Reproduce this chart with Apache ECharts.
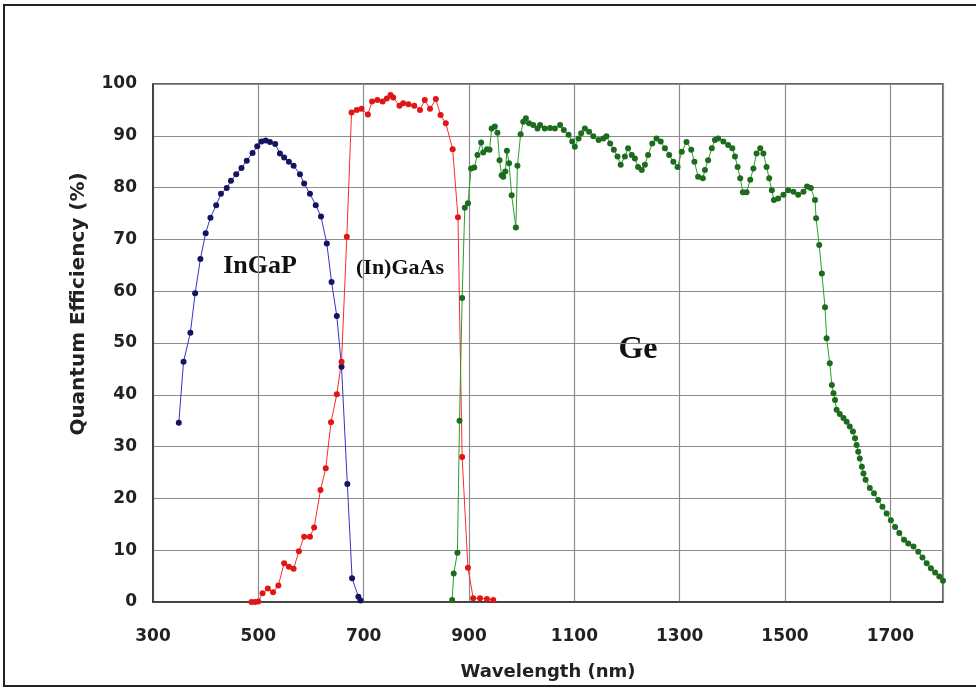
<!DOCTYPE html>
<html>
<head>
<meta charset="utf-8">
<script src="https://cdn.jsdelivr.net/npm/echarts@6/dist/echarts.min.js"></script>
<style>
  html, body { margin: 0; padding: 0; background: #fff; }
  #qe { width: 976px; height: 688px; }
</style>
</head>
<body>
<div id="qe"></div>
<script>
// x ticks
const xTicks = [300, 500, 700, 900, 1100, 1300, 1500, 1700]

// InGaP
const ingapX = [349, 358, 371, 380, 390, 400, 409, 420, 429, 440, 448, 458, 468, 478, 489, 498, 506, 514, 522, 532,
  541, 549, 558, 567, 579, 587, 598, 609, 619, 630, 639, 649, 658, 669, 678, 690, 694]
const ingapY = [34.6, 46.4, 52.0, 59.6, 66.2, 71.2, 74.2, 76.6, 78.8, 79.9, 81.3, 82.6, 83.8, 85.2, 86.7, 88.0, 88.9, 89.1, 88.8, 88.4,
  86.6, 85.8, 85.0, 84.2, 82.6, 80.8, 78.8, 76.6, 74.4, 69.2, 61.8, 55.2, 45.4, 22.8, 4.6, 1.0, 0.3]

// (In)GaAs
const gaasX = [487, 494, 500, 508, 518, 528, 538, 549, 558, 567, 577, 587, 598, 606, 618, 628, 638, 649, 658, 668,
  677, 687, 696, 708, 716, 726, 736, 744, 751, 756, 768, 775, 785, 796, 807, 816, 826, 837, 846, 856,
  869, 879, 887, 898, 908, 921, 934, 946]
const gaasY = [0, 0, 0.1, 1.7, 2.6, 1.9, 3.2, 7.5, 6.8, 6.4, 9.8, 12.6, 12.6, 14.4, 21.6, 25.8, 34.7, 40.1, 46.4, 70.5,
  94.5, 95.0, 95.2, 94.1, 96.6, 96.9, 96.6, 97.2, 97.9, 97.4, 95.8, 96.3, 96.1, 95.8, 95.0, 96.9, 95.2, 97.1, 94.0, 92.4,
  87.4, 74.3, 28.0, 6.6, 0.7, 0.7, 0.6, 0.4]

// Ge
const geX = [868, 871, 878, 882, 887, 892, 898, 904, 910, 916, 923, 927, 934, 939, 943, 949, 954, 958, 962, 965,
  969, 972, 976, 981, 989, 992, 998, 1003, 1008, 1014, 1022, 1030, 1035, 1044, 1054, 1063, 1073, 1080, 1089, 1096,
  1101, 1108, 1113, 1120, 1128, 1136, 1146, 1155, 1161, 1168, 1175, 1182, 1188, 1196, 1202, 1209, 1215, 1221, 1228, 1234,
  1240, 1248, 1256, 1264, 1272, 1280, 1288, 1296, 1304, 1313, 1322, 1328, 1335, 1344, 1348, 1354, 1361, 1367, 1373, 1383,
  1392, 1400, 1405, 1410, 1415, 1420, 1427, 1434, 1440, 1446, 1453, 1459, 1465, 1470, 1475, 1479, 1487, 1497, 1506, 1516,
  1525, 1535, 1542, 1549, 1557, 1559, 1565, 1570, 1576, 1579, 1585, 1589, 1592, 1595, 1598, 1604, 1611, 1617, 1623, 1629,
  1633, 1636, 1639, 1642, 1646, 1649, 1653, 1661, 1669, 1677, 1685, 1693, 1701, 1709, 1717, 1726, 1734, 1744, 1753, 1761,
  1769, 1777, 1785, 1793, 1800]
const geY = [0.4, 5.5, 9.5, 35.0, 58.7, 76.1, 77.0, 83.7, 83.9, 86.3, 88.7, 86.8, 87.4, 87.3, 91.4, 91.8, 90.6, 85.3, 82.4, 82.1,
  83.1, 87.1, 84.7, 78.5, 72.3, 84.2, 90.3, 92.7, 93.4, 92.4, 92.1, 91.4, 92.1, 91.4, 91.5, 91.4, 92.1, 91.1, 90.2, 88.9,
  87.9, 89.5, 90.5, 91.4, 90.8, 89.9, 89.2, 89.5, 89.9, 88.5, 87.3, 86.0, 84.4, 86.0, 87.6, 86.3, 85.6, 84.0, 83.4, 84.4,
  86.3, 88.5, 89.5, 88.9, 87.6, 86.3, 85.0, 84.0, 86.9, 88.8, 87.3, 85.0, 82.1, 81.8, 83.4, 85.3, 87.6, 89.2, 89.5, 88.9,
  88.2, 87.6, 86.0, 84.0, 81.8, 79.1, 79.1, 81.5, 83.7, 86.6, 87.6, 86.6, 84.0, 81.8, 79.5, 77.6, 77.9, 78.6, 79.5, 79.2,
  78.6, 79.2, 80.2, 79.9, 77.6, 74.1, 68.9, 63.4, 56.9, 50.9, 46.1, 41.9, 40.3, 39.0, 37.1, 36.3, 35.5, 34.8, 33.9, 32.9,
  31.6, 30.3, 29.0, 27.7, 26.1, 24.8, 23.6, 22.0, 21.0, 19.7, 18.4, 17.1, 15.8, 14.5, 13.3, 12.0, 11.3, 10.7, 9.7, 8.6,
  7.5, 6.5, 5.7, 4.9, 4.1]

function pairs(xs, ys) {
  return xs.map((x, i) => [x, ys[i]])
}

function makeSeries(name, xs, ys, lineColor, dotColor) {
  return {
    name: name,
    type: 'line',
    data: pairs(xs, ys),
    symbol: 'circle',
    symbolSize: 6,
    showSymbol: true,
    animation: false,
    lineStyle: { color: lineColor, width: 1 },
    itemStyle: { color: dotColor }
  }
}

const labelFont = { fontFamily: 'DejaVu Sans', fontWeight: 'bold', fontSize: 17, color: '#222' }

let chartDom = document.getElementById('qe')
let myChart = echarts.init(chartDom)
let option = {
  backgroundColor: '#fff',
  animation: false,
  grid: {
    left: 153, top: 84, right: 33, bottom: 86,
    show: true, borderColor: '#333', borderWidth: 1.5
  },
  xAxis: {
    type: 'value',
    min: xTicks[0],
    max: 1800,
    interval: 200,
    name: 'Wavelength (nm)',
    nameLocation: 'middle',
    nameGap: 61,
    nameTextStyle: { fontFamily: 'DejaVu Sans', fontWeight: 'bold', fontSize: 18, color: '#222' },
    axisLine: { show: true, lineStyle: { color: '#333', width: 1.5 } },
    axisTick: { show: false },
    axisLabel: Object.assign({ margin: 26, showMaxLabel: false,
      formatter: v => (xTicks.indexOf(v) >= 0 ? String(v) : '') }, labelFont),
    splitLine: { show: true, lineStyle: { color: '#8c8c8c', width: 1.2 } }
  },
  yAxis: {
    type: 'value',
    min: 0,
    max: 100,
    interval: 10,
    axisLine: { show: true, lineStyle: { color: '#333', width: 1.5 } },
    axisTick: { show: false },
    axisLabel: Object.assign({ margin: 16 }, labelFont),
    splitLine: { show: true, lineStyle: { color: '#8c8c8c', width: 1.2 } }
  },
  graphic: [
    {
      type: 'rect', silent: true,
      shape: { x: 4, y: 5, width: 1000, height: 681 },
      style: { fill: 'none', stroke: '#222', lineWidth: 2 }
    },
    {
      type: 'text', x: 79, y: 304, rotation: Math.PI / 2,
      style: { text: 'Quantum Efficiency (%)', font: 'bold 20px "DejaVu Sans"', fill: '#222',
        textAlign: 'center', textVerticalAlign: 'middle' }
    },
    {
      type: 'text', x: 260, y: 266,
      style: { text: 'InGaP', font: 'bold 26px "Liberation Serif"', fill: '#111',
        textAlign: 'center', textVerticalAlign: 'middle' }
    },
    {
      type: 'text', x: 400, y: 268,
      style: { text: '(In)GaAs', font: 'bold 22px "Liberation Serif"', fill: '#111',
        textAlign: 'center', textVerticalAlign: 'middle' }
    },
    {
      type: 'text', x: 638, y: 350,
      style: { text: 'Ge', font: 'bold 32px "Liberation Serif"', fill: '#111',
        textAlign: 'center', textVerticalAlign: 'middle' }
    }
  ],
  series: [
    makeSeries('InGaP', ingapX, ingapY, '#3535c8', '#15155f'),
    makeSeries('(In)GaAs', gaasX, gaasY, '#ff2a2a', '#e01515'),
    makeSeries('Ge', geX, geY, '#2aa02a', '#1d6b1d')
  ]
}
option && myChart.setOption(option)
</script>
</body>
</html>
